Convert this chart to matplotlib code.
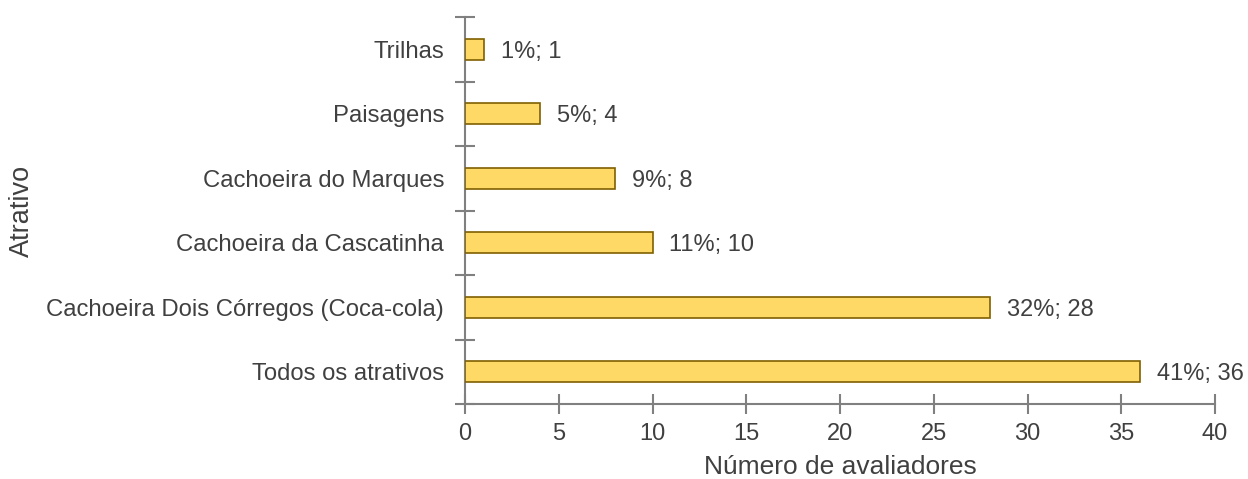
import matplotlib
matplotlib.use("Agg")
import matplotlib.pyplot as plt
import numpy as np

categories = ["Todos os atrativos", "Cachoeira Dois Córregos (Coca-cola)",
              "Cachoeira da Cascatinha", "Cachoeira do Marques", "Paisagens", "Trilhas"]
values = [36, 28, 10, 8, 4, 1]
percents = ["41%", "32%", "11%", "9%", "5%", "1%"]
xticks = [0, 5, 10, 15, 20, 25, 30, 35, 40]

plt.rcParams['font.family'] = ['Liberation Sans', 'DejaVu Sans']
txt = '#404040'
axc = '#808080'

fig = plt.figure(figsize=(12.48, 4.79), dpi=100)
ax = fig.add_axes([465/1248, 1-404/479, (1215-465)/1248, (404-17)/479])
y = np.arange(len(categories))
ax.barh(y, values, height=0.33, color='#FFD966', edgecolor='#7F6000', linewidth=1.2, zorder=3)
for yi, v, p in zip(y, values, percents):
    ax.text(v + 0.9, yi, f"{p}; {v}", va='center_baseline', ha='left', fontsize=17, color=txt)

ax.set_xlim(0, 40)
ax.set_ylim(-0.5, len(categories)-0.5)
ax.set_xticks(xticks)
ax.set_xticklabels([str(t) for t in xticks])
ax.set_yticks(np.arange(-0.5, len(categories), 1.0))
ax.set_yticklabels([])
ax.set_yticks(y, minor=True)
ax.set_yticklabels(categories, minor=True)
ax.tick_params(axis='y', which='major', direction='inout', length=14, width=1.5, color=axc)
ax.tick_params(axis='y', which='minor', length=0, labelsize=17.2, labelcolor=txt, pad=15)
ax.tick_params(axis='x', direction='inout', length=14, width=1.5, color=axc,
               labelsize=17, labelcolor=txt, pad=7)
for s in ['top', 'right']:
    ax.spines[s].set_visible(False)
for s in ['left', 'bottom']:
    ax.spines[s].set_color(axc)
    ax.spines[s].set_linewidth(1.5)
ax.set_xlabel("Número de avaliadores", fontsize=19, color=txt, labelpad=7)
fig.text(22/1248, 1-210.5/479, "Atrativo", rotation=90, ha='center', va='center',
         fontsize=19.5, color=txt)

fig.savefig("out.png", dpi=100)
